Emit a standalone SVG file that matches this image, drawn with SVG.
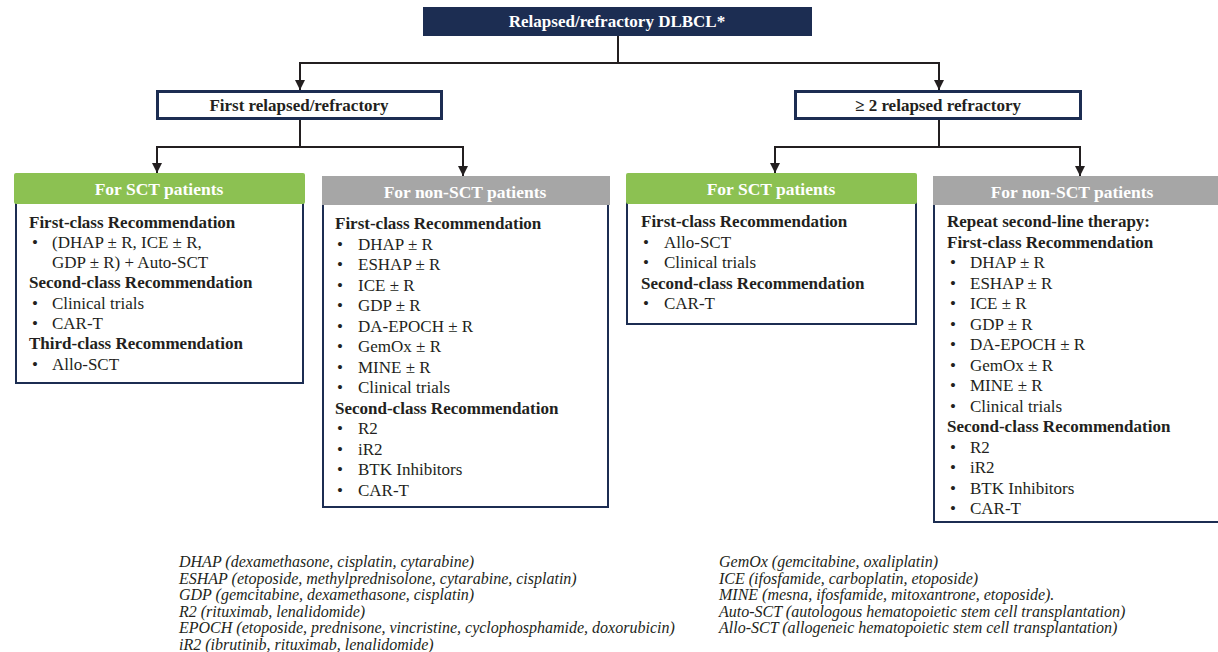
<svg xmlns="http://www.w3.org/2000/svg" width="1218" height="652" viewBox="0 0 1218 652">
<style>
.t{font-family:"Liberation Serif","Times New Roman",serif;font-size:17px;fill:#231f20}
.b{font-weight:bold}
.hd{font-family:"Liberation Serif","Times New Roman",serif;font-size:17.5px;font-weight:bold;fill:#ffffff;text-anchor:middle}
.ht{font-family:"Liberation Serif","Times New Roman",serif;font-size:17px;font-weight:bold;fill:#ffffff;text-anchor:middle}
.hk{font-family:"Liberation Serif","Times New Roman",serif;font-size:17px;font-weight:bold;fill:#231f20;text-anchor:middle}
.fn{font-family:"Liberation Serif","Times New Roman",serif;font-size:16px;font-style:italic;fill:#231f20}
.body{fill:#ffffff;stroke:#1c2d52;stroke-width:2}
.green{fill:#8cc152}
.gray{fill:#a6a6a6}
.conn{fill:none;stroke:#231f20;stroke-width:2}
</style>
<defs>
<marker id="arr" markerUnits="userSpaceOnUse" markerWidth="10" markerHeight="10" refX="10" refY="5" orient="auto">
<path d="M0,0 L10,5 L0,10 z" fill="#231f20"/>
</marker>
</defs>
<rect width="1218" height="652" fill="#ffffff"/>

<g id="connectors">
<path class="conn" d="M618,36 V63 H300 V90" marker-end="url(#arr)"/>
<path class="conn" d="M618,63 H939 V90" marker-end="url(#arr)"/>
<path class="conn" d="M300,120 V147 H157 V173" marker-end="url(#arr)"/>
<path class="conn" d="M300,147 H463 V176" marker-end="url(#arr)"/>
<path class="conn" d="M939,120 V147 H775 V173" marker-end="url(#arr)"/>
<path class="conn" d="M939,147 H1080 V176" marker-end="url(#arr)"/>
</g>

<g id="root">
<rect x="423" y="7" width="389" height="29" fill="#1c2d52"/>
<text class="ht" x="617" y="27">Relapsed/refractory DLBCL*</text>
</g>

<g id="first">
<rect x="157.5" y="91.5" width="284" height="27" fill="#ffffff" stroke="#1c2d52" stroke-width="3"/>
<text class="hk" x="299" y="111">First relapsed/refractory</text>
</g>

<g id="second">
<rect x="795.5" y="91.5" width="285" height="27" fill="#ffffff" stroke="#1c2d52" stroke-width="3"/>
<text class="hk" x="938" y="111">≥ 2 relapsed refractory</text>
</g>

<g id="sct1">
<rect class="body" x="16" y="192" width="287" height="191"/>
<rect class="green" x="14" y="173" width="291" height="31" rx="2"/>
<text class="hd" x="159" y="195">For SCT patients</text>
<text class="t b" x="29" y="228">First-class Recommendation</text>
<text class="t" x="32" y="248">•</text><text class="t" x="52" y="248">(DHAP ± R, ICE ± R,</text>
<text class="t" x="52" y="268">GDP ± R) + Auto-SCT</text>
<text class="t b" x="29" y="288">Second-class Recommendation</text>
<text class="t" x="32" y="309">•</text><text class="t" x="52" y="309">Clinical trials</text>
<text class="t" x="32" y="329">•</text><text class="t" x="52" y="329">CAR-T</text>
<text class="t b" x="29" y="349">Third-class Recommendation</text>
<text class="t" x="32" y="370">•</text><text class="t" x="52" y="370">Allo-SCT</text>
</g>

<g id="nonsct1">
<rect class="body" x="323" y="195" width="285" height="312"/>
<rect class="gray" x="322" y="176" width="288" height="29"/>
<text class="hd" x="465" y="198">For non-SCT patients</text>
<text class="t b" x="335" y="229">First-class Recommendation</text>
<text class="t" x="337" y="249.5">•</text><text class="t" x="358" y="249.5">DHAP ± R</text>
<text class="t" x="337" y="270">•</text><text class="t" x="358" y="270">ESHAP ± R</text>
<text class="t" x="337" y="290.5">•</text><text class="t" x="358" y="290.5">ICE ± R</text>
<text class="t" x="337" y="311">•</text><text class="t" x="358" y="311">GDP ± R</text>
<text class="t" x="337" y="331.5">•</text><text class="t" x="358" y="331.5">DA-EPOCH ± R</text>
<text class="t" x="337" y="352">•</text><text class="t" x="358" y="352">GemOx ± R</text>
<text class="t" x="337" y="372.5">•</text><text class="t" x="358" y="372.5">MINE ± R</text>
<text class="t" x="337" y="393">•</text><text class="t" x="358" y="393">Clinical trials</text>
<text class="t b" x="335" y="413.5">Second-class Recommendation</text>
<text class="t" x="337" y="434">•</text><text class="t" x="358" y="434">R2</text>
<text class="t" x="337" y="454.5">•</text><text class="t" x="358" y="454.5">iR2</text>
<text class="t" x="337" y="475">•</text><text class="t" x="358" y="475">BTK Inhibitors</text>
<text class="t" x="337" y="495.5">•</text><text class="t" x="358" y="495.5">CAR-T</text>
</g>

<g id="sct2">
<rect class="body" x="627" y="192" width="289" height="132"/>
<rect class="green" x="626" y="173" width="291" height="31" rx="2"/>
<text class="hd" x="771" y="195">For SCT patients</text>
<text class="t b" x="641" y="227">First-class Recommendation</text>
<text class="t" x="643" y="247.5">•</text><text class="t" x="664" y="247.5">Allo-SCT</text>
<text class="t" x="643" y="268">•</text><text class="t" x="664" y="268">Clinical trials</text>
<text class="t b" x="641" y="288.5">Second-class Recommendation</text>
<text class="t" x="643" y="309">•</text><text class="t" x="664" y="309">CAR-T</text>
</g>

<g id="nonsct2">
<rect class="body" x="934" y="195" width="300" height="327"/>
<rect class="gray" x="933" y="176" width="285" height="29"/>
<text class="hd" x="1072" y="198">For non-SCT patients</text>
<text class="t b" x="947" y="227">Repeat second-line therapy:</text>
<text class="t b" x="947" y="247.5">First-class Recommendation</text>
<text class="t" x="950" y="268">•</text><text class="t" x="970" y="268">DHAP ± R</text>
<text class="t" x="950" y="288.5">•</text><text class="t" x="970" y="288.5">ESHAP ± R</text>
<text class="t" x="950" y="309">•</text><text class="t" x="970" y="309">ICE ± R</text>
<text class="t" x="950" y="329.5">•</text><text class="t" x="970" y="329.5">GDP ± R</text>
<text class="t" x="950" y="350">•</text><text class="t" x="970" y="350">DA-EPOCH ± R</text>
<text class="t" x="950" y="370.5">•</text><text class="t" x="970" y="370.5">GemOx ± R</text>
<text class="t" x="950" y="391">•</text><text class="t" x="970" y="391">MINE ± R</text>
<text class="t" x="950" y="411.5">•</text><text class="t" x="970" y="411.5">Clinical trials</text>
<text class="t b" x="947" y="432">Second-class Recommendation</text>
<text class="t" x="950" y="452.5">•</text><text class="t" x="970" y="452.5">R2</text>
<text class="t" x="950" y="473">•</text><text class="t" x="970" y="473">iR2</text>
<text class="t" x="950" y="493.5">•</text><text class="t" x="970" y="493.5">BTK Inhibitors</text>
<text class="t" x="950" y="514">•</text><text class="t" x="970" y="514">CAR-T</text>
</g>

<g id="footnotes">
<text class="fn" x="179" y="567">DHAP (dexamethasone, cisplatin, cytarabine)</text>
<text class="fn" x="179" y="583.6">ESHAP (etoposide, methylprednisolone, cytarabine, cisplatin)</text>
<text class="fn" x="179" y="600.2">GDP (gemcitabine, dexamethasone, cisplatin)</text>
<text class="fn" x="179" y="616.8">R2 (rituximab, lenalidomide)</text>
<text class="fn" x="179" y="633.4">EPOCH (etoposide, prednisone, vincristine, cyclophosphamide, doxorubicin)</text>
<text class="fn" x="179" y="650">iR2 (ibrutinib, rituximab, lenalidomide)</text>
<text class="fn" x="719" y="567">GemOx (gemcitabine, oxaliplatin)</text>
<text class="fn" x="719" y="583.6">ICE (ifosfamide, carboplatin, etoposide)</text>
<text class="fn" x="719" y="600.2">MINE (mesna, ifosfamide, mitoxantrone, etoposide).</text>
<text class="fn" x="719" y="616.8">Auto-SCT (autologous hematopoietic stem cell transplantation)</text>
<text class="fn" x="719" y="633.4">Allo-SCT (allogeneic hematopoietic stem cell transplantation)</text>
</g>
</svg>
